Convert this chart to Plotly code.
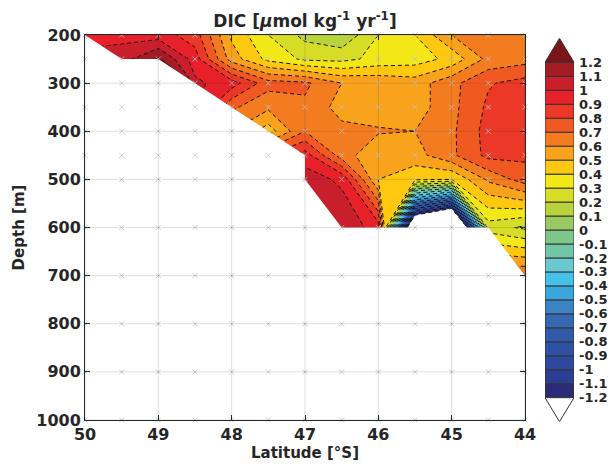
import plotly.graph_objects as go

# ---------------- data ----------------
lat = [50, 49.5, 49, 48.5, 48, 47.5, 47, 46.5, 46, 45.5, 45, 44.5, 44]
depth = [200, 250, 300, 350, 400, 450, 500, 600, 700, 800, 900, 1000]
N = None
dic_200 = [0.95, 0.97, 0.95, 0.85, 0.48, 0.30, 0.17, 0.12, 0.30, 0.40, 0.60, 0.65, 0.65]
dic_250 = [1.04, 1.05, 1.22, 0.95, 0.55, 0.37, 0.28, 0.27, 0.33, 0.35, 0.43, 0.63, 0.66]
dic_300 = [N, N, 2.50, 1.02, 0.95, 0.74, 0.72, 0.60, 0.58, 0.55, 0.67, 0.79, 0.84]
dic_350 = [N, N, N, 1.05, 0.72, 0.62, 0.68, 0.56, 0.55, 0.55, 0.67, 0.82, 0.86]
dic_400 = [N, N, N, N, 0.60, 0.45, 0.70, 0.63, 0.61, 0.60, 0.68, 0.84, 0.87]
dic_450 = [N, N, N, N, N, 0.80, 0.95, 0.65, 0.52, 0.56, 0.68, 0.83, 0.82]
dic_500 = [N, N, N, N, N, N, 1.05, 0.98, 0.50, 0.42, 0.40, 0.62, 0.75]
dic_600 = [N, N, N, N, N, N, 1.10, 1.08, 0.95, -1.76, -2.25, 0.25, 0.18]
dic_700 = [N, N, N, N, N, N, N, N, N, N, N, 0.70, 0.70]
dic_800 = [N] * 13
dic_900 = [N] * 13
dic_1000 = [N] * 13
dic = [dic_200, dic_250, dic_300, dic_350, dic_400, dic_450, dic_500,
       dic_600, dic_700, dic_800, dic_900, dic_1000]

# deepest depth with data at each latitude (sea floor outline)
floor_lat = [50, 49.5, 49, 48.5, 48, 47.5, 47, 47, 46.5, 44.5, 44]
floor_depth = [200, 250, 250, 300, 350, 400, 450, 500, 600, 600, 700]

levels = [-1.2, -1.1, -1.0, -0.9, -0.8, -0.7, -0.6, -0.5, -0.4, -0.3, -0.2, -0.1, 0.0,
          0.1, 0.2, 0.3, 0.4, 0.5, 0.6, 0.7, 0.8, 0.9, 1.0, 1.1, 1.2]
cbar_ticklabels = ['-1.2', '-1.1', '-1', '-0.9', '-0.8', '-0.7', '-0.6', '-0.5', '-0.4',
                   '-0.3', '-0.2', '-0.1', '0', '0.1', '0.2', '0.3', '0.4', '0.5', '0.6',
                   '0.7', '0.8', '0.9', '1', '1.1', '1.2']
band_colors = ['#2b2a78', '#2c3e94', '#2f489e', '#2f51a3', '#315aa9', '#3568b1', '#3a84c4',
               '#3aa6de', '#46c1e8', '#69c9cf', '#72c6a8', '#7ec78b', '#98c962', '#b8d33c',
               '#d7dc26', '#f2e817', '#fdc80f', '#f9a21c', '#f47c20', '#f05a22', '#ec3826',
               '#e8202a', '#c91f2c', '#a51c24']
under_color = '#ffffff'
over_color = '#7a1519'

x_ticks = [50, 49, 48, 47, 46, 45, 44]
y_ticks = [200, 300, 400, 500, 600, 700, 800, 900, 1000]

# ---------------- figure ----------------
all_colors = [under_color] + band_colors + [over_color]
n = len(all_colors)
colorscale = [[i / (n - 1), c] for i, c in enumerate(all_colors)]

txt = '#262626'
fig = go.Figure()
fig.add_trace(go.Contour(
    x=lat, y=depth, z=dic, colorscale=colorscale, showscale=False,
    connectgaps=True,
    contours=dict(start=levels[0], end=levels[-1], size=0.1, coloring='fill', showlines=True),
    line=dict(color='#111111', width=1, dash='4px,3px', smoothing=0),
    hoverinfo='skip'))

# white mask below the sea floor (closed a little outside the axes so it clips cleanly)
pad = 0.2
mask_x = floor_lat + [x_ticks[-1] - pad, x_ticks[-1] - pad, x_ticks[0] + pad, x_ticks[0] + pad]
mask_y = floor_depth + [floor_depth[-1], y_ticks[-1] + 50, y_ticks[-1] + 50, floor_depth[0]]
fig.add_trace(go.Scatter(x=mask_x, y=mask_y, fill='toself', fillcolor='white',
                         mode='lines', line=dict(width=0, color='white'), hoverinfo='skip'))

# sample grid markers
gx = [la for d in depth for la in lat]
gy = [d for d in depth for la in lat]
fig.add_trace(go.Scatter(x=gx, y=gy, mode='markers', hoverinfo='skip',
                         marker=dict(symbol='x-thin', size=5,
                                     line=dict(width=1, color='rgba(195,195,195,0.8)')),
                         cliponaxis=False))

# colour bar built from the level list
fig.add_trace(go.Bar(x=[0.5] * len(band_colors),
                     y=[levels[i + 1] - levels[i] for i in range(len(band_colors))],
                     base=levels[:-1], width=1,
                     marker=dict(color=band_colors, line=dict(color='#333333', width=1)),
                     xaxis='x2', yaxis='y2', hoverinfo='skip'))
tri = 0.172
fig.add_trace(go.Scatter(x=[0, 1, 0.5, 0], y=[levels[-1], levels[-1], levels[-1] + tri, levels[-1]],
                         fill='toself', fillcolor=over_color, mode='lines',
                         line=dict(color='#333333', width=1), xaxis='x2', yaxis='y2', hoverinfo='skip'))
fig.add_trace(go.Scatter(x=[0, 1, 0.5, 0], y=[levels[0], levels[0], levels[0] - tri, levels[0]],
                         fill='toself', fillcolor=under_color, mode='lines',
                         line=dict(color='#333333', width=1), xaxis='x2', yaxis='y2', hoverinfo='skip'))

# grid lines above the fill
shapes = []
for xv in x_ticks:
    shapes.append(dict(type='line', xref='x', yref='y', x0=xv, x1=xv, y0=y_ticks[0], y1=y_ticks[-1],
                       line=dict(color='rgba(38,38,38,0.15)', width=1), layer='above'))
for yv in y_ticks:
    shapes.append(dict(type='line', xref='x', yref='y', x0=x_ticks[0], x1=x_ticks[-1], y0=yv, y1=yv,
                       line=dict(color='rgba(38,38,38,0.15)', width=1), layer='above'))

bold15 = dict(family='DejaVu Sans', size=15, color=txt, weight='bold')
bold16 = dict(family='DejaVu Sans', size=16, color=txt, weight='bold')
fig.update_layout(
    width=614, height=469, margin=dict(l=85, r=5, t=35, b=44, autoexpand=False),
    paper_bgcolor='white', plot_bgcolor='white', showlegend=False, barmode='overlay',
    shapes=shapes,
    title=dict(text='DIC [<i>μ</i>mol kg<sup>-1</sup> yr<sup>-1</sup>]',
               font=dict(family='DejaVu Sans', size=17, color=txt, weight='bold'),
               x=305 / 614, xref='container', xanchor='center', y=1 - 21 / 469,
               yref='container', yanchor='middle', automargin=False),
    xaxis=dict(domain=[0, 440 / 524], range=[50, 44], tickvals=x_ticks,
               ticktext=[str(v) for v in x_ticks], showgrid=False, zeroline=False,
               showline=True, linecolor=txt, linewidth=1, mirror='ticks', ticks='inside',
               ticklen=5, tickcolor=txt, tickfont=bold16, anchor='y', automargin=False,
               title=dict(text='Latitude [°S]', font=bold15, standoff=4)),
    yaxis=dict(domain=[5 / 390, 1], range=[1000, 200], tickvals=y_ticks,
               ticktext=[str(v) for v in y_ticks], showgrid=False, zeroline=False,
               showline=True, linecolor=txt, linewidth=1, mirror='ticks', ticks='inside',
               ticklen=5, tickcolor=txt, tickfont=bold16, anchor='x', automargin=False,
               title=dict(text='Depth [m]', font=bold15, standoff=8)),
    xaxis2=dict(domain=[460 / 524, 489 / 524], range=[0, 1], visible=False, anchor='y2',
                fixedrange=True, automargin=False),
    yaxis2=dict(domain=[3.3 / 390, 386.7 / 390], range=[levels[0] - tri, levels[-1] + tri],
                anchor='x2', side='right', tickvals=levels, ticktext=cbar_ticklabels,
                showgrid=False, zeroline=False, showline=False, ticks='', automargin=False,
                tickfont=dict(family='DejaVu Sans', size=13, color=txt, weight='bold'),
                ticklabelstandoff=4),
)
fig.write_html('out.html')
